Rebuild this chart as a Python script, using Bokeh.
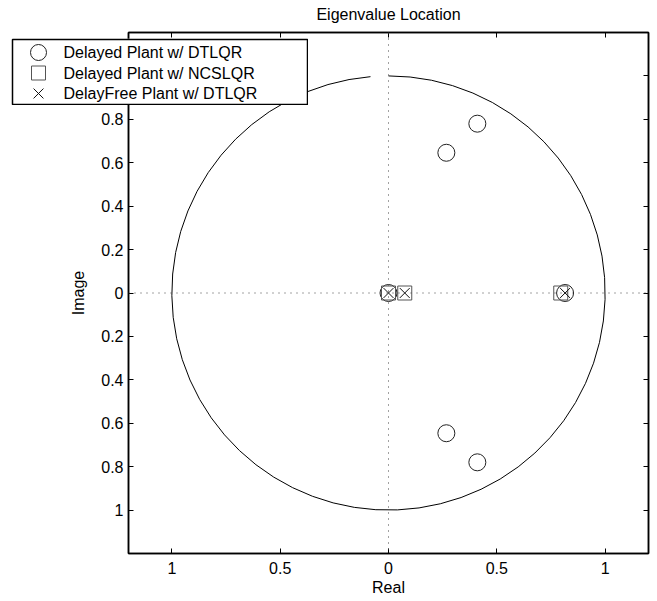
import numpy as np
from bokeh.plotting import figure
from bokeh.layouts import column
from bokeh.models import Range1d, FixedTicker, LinearAxis, Span
from bokeh.core.properties import value
from bokeh.embed import file_html
from bokeh.resources import INLINE

# ---------------- data ----------------
title_text = "Eigenvalue Location"
x_label = "Real"
y_label = "Image"
legend_labels = ["Delayed Plant w/ DTLQR", "Delayed Plant w/ NCSLQR", "DelayFree Plant w/ DTLQR"]
legend_markers = ["circle", "square", "x"]

dtlqr_re = [0.0, 0.267, 0.267, 0.41, 0.41, 0.815]
dtlqr_im = [0.0, 0.646, -0.646, 0.78, -0.78, 0.0]
ncslqr_re = [0.0, 0.075, 0.795]
ncslqr_im = [0.0, 0.0, 0.0]
free_re = [0.0, 0.075, 0.815]
free_im = [0.0, 0.0, 0.0]

x_ticks = [-1, -0.5, 0, 0.5, 1]
x_tick_labels = ["1", "0.5", "0", "0.5", "1"]
y_ticks = [-1, -0.8, -0.6, -0.4, -0.2, 0, 0.2, 0.4, 0.6, 0.8, 1]
y_tick_labels = ["1", "0.8", "0.6", "0.4", "0.2", "0", "0.2", "0.4", "0.6", "0.8", ""]

# unit circle (MATLAB style: t = 0:0.1:2*pi)
circle_step = 0.1
theta = np.arange(0, 2 * np.pi, circle_step)
unit_x = np.sin(theta)
unit_y = np.cos(theta)

FONT = "Liberation Sans"

# styles per series
marker_styles = {
    "circle": dict(size=17, line_color="#222222"),
    "square": dict(size=14, line_color="#555555"),
    "x": dict(size=14, line_color="#111111"),
}

MAIN_H = 598
p = figure(width=653, height=MAIN_H,
           x_range=Range1d(-1.2, 1.2), y_range=Range1d(-1.2, 1.2),
           output_backend="svg", toolbar_location=None, title=title_text,
           min_border_left=128, min_border_right=5, min_border_top=32, min_border_bottom=45)
p.frame_align = False
p.title.align = "center"
p.title.text_font = FONT
p.title.text_font_style = "normal"
p.title.text_font_size = "16px"
p.title.standoff = 4
p.title.text_color = "black"
p.xgrid.visible = False
p.ygrid.visible = False
p.outline_line_color = "black"
p.outline_line_width = 1.5
p.background_fill_color = "white"
p.border_fill_color = "white"


def style_axis(ax, ticks, labels, show_labels=True):
    ax.ticker = FixedTicker(ticks=ticks)
    ax.major_tick_in = 5
    ax.major_tick_out = 0
    ax.minor_tick_line_color = None
    ax.axis_line_color = "black"
    ax.axis_line_width = 1.5
    ax.major_tick_line_color = "black"
    ax.major_tick_line_width = 1
    ax.major_label_text_font = FONT
    ax.major_label_text_font_size = "16px"
    ax.major_label_text_color = "black"
    ax.axis_label_text_color = "black"
    if show_labels:
        ax.major_label_overrides = {t: l for t, l in zip(ticks, labels)}
    else:
        ax.major_label_overrides = {t: "" for t in ticks}
        ax.major_label_text_font_size = "0px"
        ax.major_label_standoff = 0


style_axis(p.xaxis[0], x_ticks, x_tick_labels)
p.xaxis[0].axis_label = x_label
p.xaxis[0].axis_label_text_font = FONT
p.xaxis[0].axis_label_text_font_style = "normal"
p.xaxis[0].axis_label_text_font_size = "16px"
p.xaxis[0].major_label_standoff = 8
p.xaxis[0].axis_label_standoff = 2

style_axis(p.yaxis[0], y_ticks, y_tick_labels)
p.yaxis[0].axis_label = y_label
p.yaxis[0].axis_label_text_font = FONT
p.yaxis[0].axis_label_text_font_style = "normal"
p.yaxis[0].axis_label_text_font_size = "16px"
p.yaxis[0].major_label_standoff = 5
p.yaxis[0].axis_label_standoff = 11

top_axis = LinearAxis()
style_axis(top_axis, x_ticks, x_tick_labels, show_labels=False)
p.add_layout(top_axis, "above")

# invisible spacer axis: lifts the title above the frame
spacer_axis = LinearAxis()
style_axis(spacer_axis, x_ticks, x_tick_labels, show_labels=False)
spacer_axis.axis_line_color = None
spacer_axis.major_tick_line_color = None
spacer_axis.major_tick_in = 0
spacer_axis.major_tick_out = 8
p.add_layout(spacer_axis, "above")

right_axis = LinearAxis()
style_axis(right_axis, y_ticks, y_tick_labels, show_labels=False)
p.add_layout(right_axis, "right")

# dotted axes through origin
p.add_layout(Span(location=0, dimension="height", line_color="#444444", line_width=1, line_dash="1 5"))
p.add_layout(Span(location=0, dimension="width", line_color="#444444", line_width=1, line_dash="1 5"))

# unit circle
p.line(unit_x, unit_y, line_color="black", line_width=1)

p.scatter(dtlqr_re, dtlqr_im, marker="circle", fill_color=None, line_width=1, **marker_styles["circle"])
p.scatter(ncslqr_re, ncslqr_im, marker="square", fill_color=None, line_width=1, **marker_styles["square"])
p.scatter(free_re, free_im, marker="x", line_width=1, **marker_styles["x"])

# ---------------- legend box (overlaid figure, pixel units) ----------------
LW, LH = 297, 67
lg = figure(width=LW, height=LH, x_range=Range1d(0, LW - 2), y_range=Range1d(0, LH - 2),
            output_backend="svg", toolbar_location=None, x_axis_type=None, y_axis_type=None,
            min_border=1)
lg.frame_align = False
lg.xgrid.visible = False
lg.ygrid.visible = False
lg.outline_line_color = "black"
lg.outline_line_width = 1.5
lg.background_fill_color = "white"
lg.border_fill_color = "white"
row_y = [(LH - 2) - 13 - 20.5 * i for i in range(len(legend_labels))]
for m, y in zip(legend_markers, row_y):
    kw = dict(marker_styles[m])
    if m == "circle":
        kw["size"] = 16
    lg.scatter([26], [y], marker=m, fill_color=None, line_width=1, **kw)
lg.text(x=[51] * len(legend_labels), y=row_y, text=legend_labels,
        text_font=value(FONT), text_font_size="16px", text_baseline="middle",
        text_align="left", text_color="black")
lg.margin = (38 - MAIN_H, 0, 0, 11)

layout = column(p, lg)
open("out.html", "w").write(file_html(layout, INLINE))
